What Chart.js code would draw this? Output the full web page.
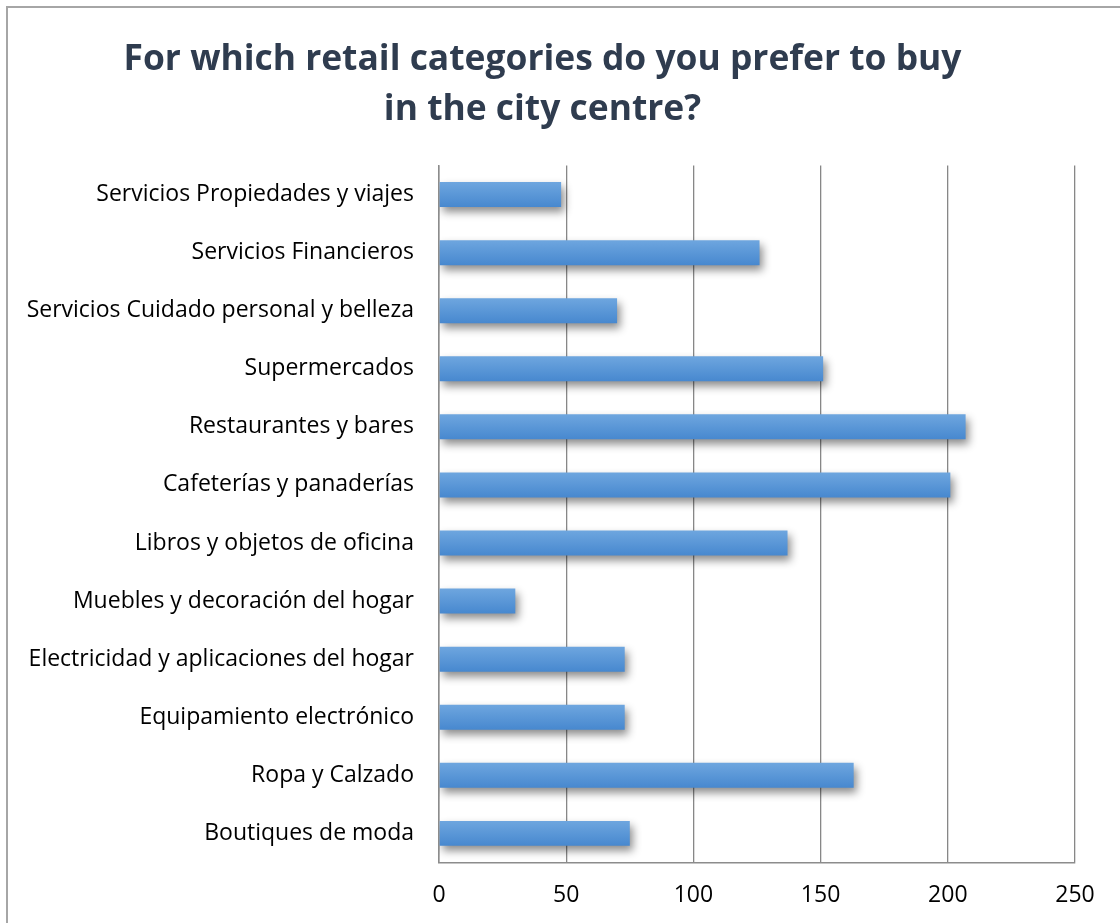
<!DOCTYPE html>
<html lang="en">
<head>
<meta charset="UTF-8">
<title>Retail categories - city centre</title>
<script src="https://cdn.jsdelivr.net/npm/chart.js"></script>
<style>
  html, body { margin: 0; padding: 0; background: #fff; overflow: hidden; }
  #wrap { position: relative; width: 1120px; height: 923px; }
  #frame { position: absolute; left: 6px; top: 6px; width: 1140px; height: 940px;
           border: 2px solid #a6a6a6; box-sizing: border-box; pointer-events: none; }
</style>
</head>
<body>
<div id="wrap">
  <canvas id="chart" width="1120" height="923"></canvas>
  <div id="frame"></div>
</div>
<script>
// categories, top to bottom
const categories = [
  'Servicios Propiedades y viajes',
  'Servicios Financieros',
  'Servicios Cuidado personal y belleza',
  'Supermercados',
  'Restaurantes y bares',
  'Cafeterías y panaderías',
  'Libros y objetos de oficina',
  'Muebles y decoración del hogar',
  'Electricidad y aplicaciones del hogar',
  'Equipamiento electrónico',
  'Ropa y Calzado',
  'Boutiques de moda'
];
const counts = [48, 126, 70, 151, 207, 201, 137, 30, 73, 73, 163, 75];
const xTicks = [0, 50, 100, 150, 200, 250];

const FONT = '"Open Sans", Lato, sans-serif';

// gradient + drop shadow on the bars, like the office-style chart
const barLook = {
  id: 'barLook',
  beforeDatasetsDraw(chart) {
    const ctx = chart.ctx;
    chart.getDatasetMeta(0).data.forEach(el => {
      const top = el.y - el.height / 2;
      const g = ctx.createLinearGradient(0, top, 0, top + el.height);
      g.addColorStop(0, '#6ea6df');
      g.addColorStop(1, '#4788cf');
      el.options.backgroundColor = g;
    });
    ctx.save();
    ctx.shadowColor = 'rgba(0,0,0,0.45)';
    ctx.shadowBlur = 9;
    ctx.shadowOffsetX = 3;
    ctx.shadowOffsetY = 5;
  },
  afterDatasetsDraw(chart) {
    chart.ctx.restore();
  }
};

new Chart(document.getElementById('chart'), {
  type: 'bar',
  data: {
    labels: categories,
    datasets: [{
      data: counts,
      // scriptable so every bar gets its own options object
      backgroundColor: () => '#5a97d8',
      borderWidth: 0,
      barPercentage: 0.43,
      categoryPercentage: 1
    }]
  },
  options: {
    indexAxis: 'y',
    responsive: false,
    animation: false,
    layout: { padding: { top: 8, right: 45, left: 10, bottom: -5 } },
    plugins: {
      legend: { display: false },
      tooltip: { enabled: false },
      title: {
        display: true,
        text: ['For which retail categories do you prefer to buy', 'in the city centre?'],
        color: '#2f3c4f',
        font: { family: FONT, size: 35.4, weight: 'bold', lineHeight: 1.42 },
        padding: { top: 27, bottom: 30 }
      }
    },
    scales: {
      x: {
        min: 0,
        max: 250,
        afterBuildTicks(axis) { axis.ticks = xTicks.map(v => ({ value: v })); },
        grid: { color: '#878787', lineWidth: 1.3, drawTicks: false },
        border: { display: true, color: '#8c8c8c', width: 1.5 },
        ticks: { color: '#000', padding: 19, font: { family: FONT, size: 23 } }
      },
      y: {
        grid: { display: false, drawTicks: false },
        border: { display: true, color: '#8c8c8c', width: 1.5 },
        ticks: { color: '#000', padding: 25, font: { family: FONT, size: 23 } },
        afterFit(axis) { axis.width = 429; }
      }
    }
  },
  plugins: [barLook]
});
</script>
</body>
</html>
